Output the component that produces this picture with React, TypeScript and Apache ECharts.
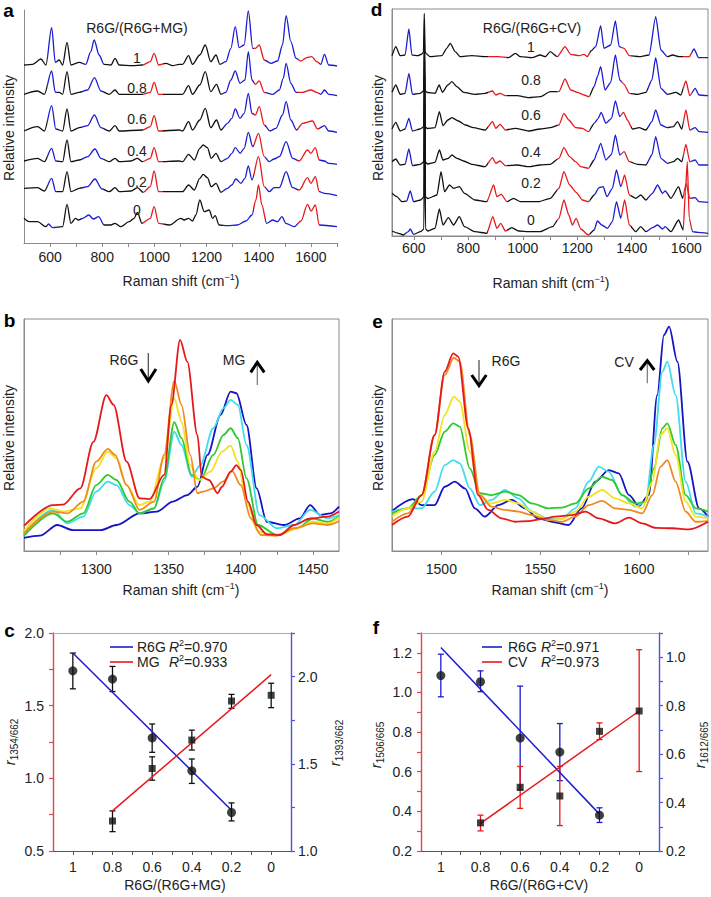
import React, { useEffect, useRef } from 'react';
import * as echarts from 'echarts';

const FONT = '"Liberation Sans", Arial, Helvetica, sans-serif';

// ---------- Panel a: stacked spectra, R6G/(R6G+MG) ----------
const levelsA = ['1', '0.8', '0.6', '0.4', '0.2', '0'];
const specA1 = [[500,178],[533,178.7],[565,184],[584,178],[606,215.3],[620,180.7],[635,183],[648,178],[665,200.7],[680,178],[712,180.7],[737,178.7],[756,191.3],[769,203],[788,188],[807,178.7],[833,178],[849,184.7],[865,178],[916,177.3],[954,178],[984,181.3],[999,189.7],[1016,178],[1044,179.7],[1070,177.3],[1095,178.7],[1108,178.7],[1131,187.3],[1146,178.7],[1174,188],[1195,198],[1216,181.3],[1236,188],[1251,178.7],[1274,181.3],[1293,194.7],[1310,216.3],[1325,195.3],[1344,198],[1360,232],[1377,194.7],[1387,194.7],[1402,198],[1421,183],[1447,179.7],[1472,182],[1491,198],[1505,227.3],[1523,201.3],[1543,184.7],[1562,182],[1584,185.3],[1603,186.3],[1622,181.3],[1638,178.7],[1652,188.7],[1668,178],[1700,177]];
const specA08 = [[500,148.7],[552,152],[578,148.7],[606,172],[620,150.7],[635,150.7],[648,148.7],[665,171.3],[680,148.7],[712,150.7],[744,153],[770,165.3],[795,152],[827,148.7],[849,153],[865,148.7],[954,148.7],[984,150.7],[999,160.7],[1016,148.7],[1095,148.7],[1108,148.7],[1131,157.3],[1146,148.7],[1174,158],[1195,171.3],[1216,151.3],[1238,158.7],[1255,148.7],[1274,150.7],[1293,163],[1310,172],[1328,159.7],[1347,163],[1360,191.3],[1374,163],[1387,158.7],[1402,162],[1421,150.7],[1453,148.7],[1479,153],[1494,164.7],[1505,179.7],[1523,159.7],[1543,150.7],[1568,150.7],[1600,153],[1622,150.7],[1638,148.7],[1652,153],[1668,148.7],[1700,147.3]];
const specA06 = [[500,112],[552,116.3],[578,112],[606,137.3],[622,114],[648,112],[665,134],[680,112],[712,115.3],[744,117.3],[770,128],[795,115.3],[827,112],[849,117.3],[865,112],[954,113],[984,116.3],[999,127.3],[1016,112],[1095,113],[1108,112],[1131,121.3],[1146,113],[1174,123],[1195,134.7],[1216,115.3],[1238,123],[1255,113],[1280,119.7],[1297,124.7],[1310,134],[1328,124.7],[1344,129.7],[1360,149.7],[1374,129.7],[1387,128],[1402,136.3],[1421,118],[1443,112],[1466,114.7],[1491,128],[1505,141.3],[1523,123],[1545,113],[1568,119.7],[1606,122],[1625,114],[1652,117.3],[1668,112],[1700,110.7]];
const specA04 = [[500,82],[552,84.7],[578,81.3],[606,94.7],[622,82],[648,81.3],[665,103],[680,81.3],[712,83],[744,86.3],[772,94],[795,84.7],[827,81.3],[849,84.7],[865,81.3],[910,82],[935,84.7],[954,81.3],[984,84.7],[999,95.3],[1016,81.3],[1095,82],[1108,81.3],[1131,88.7],[1153,83],[1174,94.7],[1187,98],[1203,95.3],[1218,84.7],[1236,89.7],[1255,81.3],[1280,84.7],[1297,89.7],[1310,95.3],[1329,89.7],[1344,94.7],[1360,110.7],[1377,96.3],[1399,109.7],[1421,86.3],[1440,81.3],[1459,84],[1479,86.3],[1505,101.3],[1530,84.7],[1555,82],[1587,93],[1600,89.7],[1617,95.3],[1632,83],[1652,82],[1668,79.7],[1700,78.7]];
const specA02 = [[500,54.7],[552,55.3],[578,52],[606,64.7],[622,51.3],[648,51.3],[665,71.3],[680,51.3],[712,54.7],[744,56.3],[772,64],[799,54],[827,51.3],[849,55.3],[865,51.3],[910,52],[935,55.3],[957,50.7],[984,56.3],[999,72],[1016,51.3],[1095,51.3],[1108,51.3],[1131,58],[1153,53],[1174,64.7],[1187,68.7],[1203,65.3],[1218,56.3],[1236,59.7],[1255,50.7],[1280,54.7],[1297,58],[1312,64],[1332,59.7],[1347,64.7],[1360,77],[1374,63],[1399,86.3],[1421,56.3],[1440,51.3],[1459,55.3],[1479,55.3],[1505,71.3],[1530,55.3],[1555,53],[1587,65.3],[1600,59.7],[1617,66.3],[1632,51.3],[1652,49.7],[1700,47.3]];
const specA0 = [[500,24.7],[520,21.3],[552,21.3],[584,16.3],[594,19],[610,15.3],[648,16.3],[665,38.7],[680,19.7],[697,24.7],[709,23],[725,24.7],[748,28],[766,24],[786,26.3],[807,18],[833,18],[849,19.7],[871,16.3],[903,21.3],[922,24.7],[935,30.7],[952,19.7],[984,24.7],[999,36.3],[1016,19.7],[1057,18],[1101,24.7],[1114,23],[1131,24.7],[1146,22],[1159,28],[1174,43],[1191,31.3],[1210,33],[1223,24.7],[1233,27.3],[1248,18],[1280,17.3],[1318,18],[1351,22],[1374,28],[1389,43],[1399,58],[1412,38],[1430,19.7],[1453,23],[1472,21.3],[1489,26.3],[1504,19.7],[1536,16.3],[1562,22],[1587,38.7],[1601,32],[1617,38],[1632,18],[1700,16.3]];
const colorBreaksA = [500, 588, 628, 722, 808, 958, 1032, 1262, 1380, 1425, 1550, 1630, 1700];
const colorKeysA = ['k', 'b', 'k', 'b', 'k', 'r', 'k', 'b', 'r', 'b', 'r', 'b'];

// ---------- Panel d: stacked spectra, R6G/(R6G+CV) ----------
const levelsD = ['1', '0.8', '0.6', '0.4', '0.2', '0'];
const specD1 = [[520,180.3],[534,189.3],[550,180.3],[568,181],[582,207],[593,181],[615,180.3],[630,182],[635.5,184],[638.5,222.7],[641.5,184],[647,182],[660,179.3],[703,180.3],[721,187.7],[734,192.7],[752,184.3],[770,179.3],[813,180.3],[862,179.3],[911,179.3],[948,178.3],[973,182.7],[991,179.3],[1034,178.3],[1064,181],[1083,179.3],[1101,184.3],[1127,179.3],[1155,189.3],[1176,181.7],[1207,180.3],[1225,181.7],[1237,179.3],[1250,185],[1268,189.3],[1286,210.3],[1298,187.7],[1323,191],[1340,215],[1354,189.3],[1372,187.7],[1391,180.3],[1427,179.3],[1464,181],[1488,219.3],[1507,186],[1531,179.3],[1550,181],[1574,179.3],[1611,179.3],[1629,187],[1645,178.3],[1680,178.3]];
const specD08 = [[520,143.7],[534,151],[550,141.7],[568,142.7],[582,162.7],[595,141.7],[623,142.7],[636,145],[639,205],[642,145],[650,143.5],[678,142.7],[693,151],[705,143.7],[725,151],[740,154.3],[758,149.3],[783,143.7],[825,141.7],[862,142.7],[889,145],[901,141],[917,142.7],[936,140.3],[979,140.3],[1022,138.3],[1064,139.3],[1101,144.3],[1133,144.3],[1155,157],[1176,146],[1200,143.7],[1225,141],[1243,139.3],[1262,149.3],[1274,159.3],[1286,169.3],[1302,146],[1323,153.7],[1340,181],[1356,156],[1372,151.7],[1391,142.7],[1421,141.7],[1452,143.7],[1474,156],[1488,178.3],[1507,147.7],[1531,141.7],[1562,143.7],[1580,141],[1599,155],[1613,140.3],[1633,147.7],[1647,141],[1680,140.3]];
const specD06 = [[520,107],[534,113.7],[550,105],[568,107],[582,117.7],[595,105],[623,107],[636,109],[639,190],[642,109],[650,107.5],[678,108.3],[694,124.3],[707,110.3],[725,116],[740,118.3],[764,115],[789,111],[819,108.3],[862,106],[889,114.3],[901,107.7],[917,111.7],[936,106],[973,107.7],[1022,105],[1064,107],[1101,108.3],[1133,111],[1151,122.7],[1169,116],[1194,108.3],[1219,107.7],[1241,104.3],[1262,112.7],[1277,117.7],[1288,123.7],[1305,112.7],[1326,117.7],[1340,135],[1356,119.3],[1370,123.7],[1384,116],[1403,107],[1427,108.3],[1452,106],[1474,114.3],[1488,126],[1507,111],[1531,108.3],[1553,109.3],[1568,114.3],[1584,107],[1599,126],[1613,106],[1633,108.3],[1647,104.3],[1680,103.7]];
const specD04 = [[520,74.3],[534,77],[550,71],[568,71.7],[582,87],[595,70.3],[623,71.7],[636.5,74],[639.5,175],[642.5,74],[651,72],[678,73.7],[694,86],[707,76],[727,77.7],[740,81],[758,77.7],[783,75],[813,71.7],[862,69.3],[889,78.3],[901,72.7],[917,75],[936,70.3],[979,71],[1022,69.3],[1064,71],[1101,71.7],[1133,77.7],[1151,88.3],[1172,79.3],[1194,74.3],[1213,69.3],[1241,67.7],[1262,76],[1274,84.3],[1286,92.7],[1305,76],[1326,81.7],[1340,101],[1356,81],[1372,84.3],[1391,74.3],[1421,71.7],[1452,71],[1474,81],[1488,99.3],[1507,77.7],[1531,72.7],[1553,74.3],[1568,77.7],[1584,74.3],[1599,91.7],[1613,74.3],[1633,76],[1647,71],[1680,71]];
const specD02 = [[520,42.7],[538,39.3],[556,34.3],[574,35],[587,45],[599,34.3],[625,36],[637,39],[640,160],[643,39],[652,37.5],[685,41],[700,64.3],[713,44.3],[731,51],[746,47.7],[767,49.3],[786,42.7],[825,36],[868,34.3],[893,51],[905,39.3],[921,41.7],[942,34.3],[966,37.7],[991,34.3],[1022,34.3],[1058,34.3],[1101,37.7],[1133,47.7],[1151,64.3],[1172,51],[1196,43.7],[1219,36],[1241,34.3],[1262,41],[1280,48.3],[1295,49.3],[1309,39.3],[1329,47.7],[1344,66],[1360,49.3],[1374,61],[1391,41],[1415,37.7],[1433,41],[1452,36],[1476,42.7],[1495,51],[1513,42.7],[1523,45],[1544,37.7],[1572,49.3],[1587,37.7],[1600,52.7],[1613,37.7],[1633,38.3],[1647,34.3],[1680,33.7]];
const specD0 = [[520,5],[544,2.7],[562,1],[580,4.3],[587,7],[599,1.7],[625,4.3],[637,7],[640,150],[643,7],[652,5],[678,7.7],[694,27],[707,11],[727,18.3],[746,11],[767,19.3],[786,9.3],[825,4.3],[868,2.7],[890,19.3],[905,7.7],[919,12.7],[936,5],[960,8.3],[985,5],[1022,4.3],[1064,4.3],[1109,9.3],[1133,17.7],[1151,36],[1169,21],[1182,11],[1196,17.7],[1213,7],[1241,1],[1262,6],[1274,15],[1290,11],[1311,7.7],[1329,14.3],[1344,34.3],[1360,17.7],[1374,36],[1391,11],[1415,4.3],[1433,9.3],[1452,4.3],[1476,8.3],[1495,11],[1513,7],[1523,9.3],[1544,4.3],[1572,16],[1589,6],[1597,44.3],[1604,74.3],[1611,17.7],[1623,4.3],[1642,3.7],[1680,2.7]];
const colorBreaksD = [500, 568, 600, 872, 942, 1125, 1248, 1262, 1360, 1398, 1458, 1532, 1590, 1622, 1700];
const colorKeysD = ['k', 'b', 'k', 'r', 'k', 'r', 'k', 'b', 'r', 'k', 'b', 'k', 'r', 'b'];

// ---------- Panel b: 1250-1470 region (R6G/MG) ----------
const bRed = [[1250,10.8],[1270,19.8],[1277,20],[1289,27],[1298,47],[1307,67.2],[1312,63],[1321,38.5],[1330,22.7],[1337,22.4],[1347,32.8],[1352,63],[1358,91],[1363,81.6],[1370,50],[1373,32],[1378,30.6],[1384,24.9],[1387,27.7],[1393,34.2],[1397,37],[1400,35],[1405,21.3],[1411,11.2],[1418,7.2],[1427,6.9],[1437,11.2],[1448,14],[1460,14.8],[1468,17]];
const bOrange = [[1250,7.6],[1270,17],[1280,16.2],[1291,21.3],[1300,38.5],[1308,44],[1313,41.4],[1321,28.4],[1330,17.7],[1340,21.3],[1347,41.4],[1354,73.3],[1359,63],[1365,41.4],[1370,24.9],[1374,25.6],[1381,27],[1388,30],[1394,34.5],[1400,28.4],[1407,14],[1414,6.9],[1425,6.6],[1437,9.8],[1450,11.9],[1460,11.2],[1468,12.9]];
const bYellow = [[1250,8.6],[1268,18.4],[1277,17],[1289,18.4],[1300,35.6],[1308,42.8],[1314,40],[1321,28.4],[1330,19.8],[1337,21.3],[1347,40],[1354,65.8],[1359,55.7],[1365,37],[1371,30.6],[1379,34.2],[1387,42.8],[1393,45.4],[1398,38.5],[1404,21.3],[1412,8.3],[1425,6.6],[1439,9.8],[1450,12.6],[1460,11.8],[1468,14.4]];
const bGreen = [[1250,6.6],[1270,16.2],[1280,12.6],[1291,16.2],[1300,28.4],[1308,32.8],[1314,30.6],[1323,21.3],[1330,16.2],[1340,18.4],[1347,31.3],[1354,55.5],[1359,48.6],[1366,32.8],[1372,30.6],[1381,41.4],[1388,50],[1393,52.9],[1398,48.6],[1404,31.3],[1412,11.2],[1425,6.9],[1439,9.8],[1450,14],[1460,12.6],[1468,14.8]];
const bCyan = [[1250,7.6],[1270,17.7],[1280,11.9],[1291,14.8],[1300,25.6],[1308,29.9],[1314,28.4],[1323,19.8],[1330,16.2],[1340,18.4],[1347,29.9],[1354,51.4],[1359,45.7],[1366,32],[1372,37],[1381,52.9],[1388,61.5],[1393,65.1],[1398,63],[1404,45.7],[1413,15.5],[1425,9.8],[1437,11.2],[1448,17.7],[1460,14.1],[1468,15.5]];
const bBlue = [[1250,5.7],[1261,6.6],[1273,11.2],[1284,9],[1303,9],[1314,11.2],[1330,16.2],[1342,17],[1353,21.3],[1363,24.1],[1370,27.7],[1377,41.4],[1386,58.6],[1393,68.7],[1397,68],[1404,54.3],[1411,27],[1418,12.6],[1430,11.2],[1441,14.1],[1448,19.8],[1455,15.5],[1462,16.2],[1468,19.1]];

// ---------- Panel e: 1475-1635 region (R6G/CV) ----------
const eRed = [[1475,11.2],[1483,14.8],[1490,24.1],[1496.6,50],[1501.7,77.3],[1506,85.2],[1508.5,83.8],[1513.6,52.9],[1518.6,24.1],[1523.7,17.7],[1530.5,14.1],[1537.3,12.6],[1544,12.9],[1550.8,13.8],[1557.6,14.8],[1566,15.5],[1572.9,17],[1579.7,14.1],[1588,11.9],[1595,14.4],[1601.7,11.9],[1608.5,10],[1617,9.8],[1625.4,9.3],[1635,12.6]];
const eOrange = [[1475,12.6],[1483,16.2],[1490,24.1],[1496.6,50],[1501.7,75.9],[1506.3,83.3],[1509.3,81.6],[1514.4,50],[1519.5,24.1],[1525.4,19.1],[1532.2,17.7],[1539,17],[1545.8,15.5],[1554.2,13.4],[1561,12.6],[1567.8,14.8],[1574.6,19.8],[1581.4,21.6],[1588,18.4],[1595,17.7],[1601.7,16.2],[1606.8,24.1],[1611,36.4],[1614.4,39.2],[1618.6,29.9],[1623.7,17],[1628.8,12.6],[1635,12.9]];
const eYellow = [[1475,14.8],[1483,18.4],[1490,21.3],[1496.6,42.8],[1501.7,58.6],[1506.3,66.5],[1509.3,64.4],[1514.4,42.8],[1519.5,24.1],[1525.4,20.5],[1532.2,22],[1539,20.5],[1545.8,17],[1554.2,13.4],[1561,13.8],[1567.8,17],[1574.6,23.4],[1581.4,26.3],[1588,22.7],[1595,20.5],[1601.7,18.4],[1606.8,29.9],[1611,50],[1614.4,52.9],[1618.6,41.4],[1623.7,21.3],[1628.8,14.8],[1635,14.1]];
const eGreen = [[1475,16.2],[1483,18.4],[1490,24.1],[1496.6,41.4],[1501.7,51.4],[1506,55],[1509.3,53.6],[1514.4,35.6],[1519.5,24.9],[1525.4,24.1],[1532.2,25.6],[1539,24.1],[1545.8,20.5],[1554.2,18.4],[1561,18.7],[1567.8,20.5],[1574.6,27],[1581.4,32],[1586.4,30.6],[1591.5,24.1],[1598.3,20.5],[1603.4,21.3],[1607.6,35.6],[1611.9,52.9],[1614.4,55],[1618.6,45.7],[1623.7,24.1],[1628.8,18.4],[1635,17]];
const eCyan = [[1475,17],[1483,18.4],[1490,18.4],[1496.6,25.6],[1501.7,37],[1506,39.2],[1509.3,37.8],[1514.4,27],[1519.5,19.8],[1525.4,22],[1532.2,26.3],[1539,22.7],[1545.8,17],[1554.2,13.8],[1561,13.8],[1567.8,18.4],[1574.6,29.9],[1579.7,36.4],[1584.7,34.2],[1591.5,24.1],[1598.3,19.1],[1603.4,21.3],[1607.6,45.7],[1611.9,77.3],[1614.4,81.6],[1618.6,67.2],[1623.7,29.9],[1628.8,16.2],[1635,14.8]];
const eBlue = [[1475,17.2],[1485.6,22.4],[1490,19.8],[1496.6,19.8],[1501.7,27.7],[1506.8,29.9],[1511.9,27],[1517,18.4],[1522,14.8],[1528.8,19.8],[1535.6,22],[1542.4,18.4],[1549,14.1],[1556,12.6],[1564.4,11.2],[1571,18.4],[1578,29.9],[1584.7,34.9],[1589.8,33.5],[1595,24.1],[1600,19.5],[1605,24.1],[1609.3,67.2],[1612.7,93.1],[1615.3,96.7],[1619.5,81.6],[1624.6,38.5],[1630.5,18.4],[1635,14.8]];

// ---------- Panel c ----------
const cR6GX = [1, 0.8, 0.6, 0.4, 0.2];
const cR6GVal = [1.74, 1.683, 1.278, 1.052, 0.765];
const cR6GLow = [1.616, 1.597, 1.179, 0.965, 0.707];
const cR6GHigh = [1.862, 1.77, 1.374, 1.133, 0.831];
const cMGX = [0.8, 0.6, 0.4, 0.2, 0];
const cMGVal = [1.172, 1.473, 1.636, 1.86, 1.893];
const cMGLow = [1.111, 1.406, 1.579, 1.818, 1.822];
const cMGHigh = [1.23, 1.54, 1.693, 1.898, 1.962];
const cR6GFit = [[1, 1.862], [0.2, 0.78]];
const cMGFit = [[0.8, 1.23], [0, 2.011]];

// ---------- Panel f ----------
const fR6GX = [1, 0.8, 0.6, 0.4, 0.2];
const fR6GVal = [1.085, 1.054, 0.77, 0.699, 0.381];
const fR6GLow = [0.978, 1.004, 0.508, 0.555, 0.344];
const fR6GHigh = [1.193, 1.109, 1.032, 0.843, 0.418];
const fCVX = [0.8, 0.6, 0.4, 0.2, 0];
const fCVVal = [0.316, 0.463, 0.427, 0.694, 0.778];
const fCVLow = [0.283, 0.376, 0.305, 0.66, 0.528];
const fCVHigh = [0.348, 0.549, 0.549, 0.729, 1.031];
const fR6GFit = [[1, 1.227], [0.2, 0.386]];
const fCVFit = [[0.8, 0.314], [0, 0.778]];

// ---------- Tick values ----------
const ticksA = [600, 700, 800, 900, 1000, 1100, 1200, 1300, 1400, 1500, 1600, 1700];
const labelsA = [600, 800, 1000, 1200, 1400, 1600];
const ticksD = [600, 700, 800, 900, 1000, 1100, 1200, 1300, 1400, 1500, 1600];
const labelsD = [600, 800, 1000, 1200, 1400, 1600];
const ticksB = [1275, 1300, 1325, 1350, 1375, 1400, 1425, 1450];
const labelsB = [1300, 1350, 1400, 1450];
const ticksE = [1500, 1525, 1550, 1575, 1600, 1625];
const labelsE = [1500, 1550, 1600];
const ticksRatio = [1, 0.9, 0.8, 0.7, 0.6, 0.5, 0.4, 0.3, 0.2, 0.1, 0];
const labelsRatio = [1, 0.8, 0.6, 0.4, 0.2, 0];
const ticksCL = [0.5, 0.75, 1, 1.25, 1.5, 1.75, 2];
const labelsCL = [0.5, 1, 1.5, 2];
const ticksCR = [1, 1.25, 1.5, 1.75, 2, 2.25];
const labelsCR = [1, 1.5, 2];
const ticksFL = [0.2, 0.3, 0.4, 0.5, 0.6, 0.7, 0.8, 0.9, 1, 1.1, 1.2, 1.3];
const labelsFL = [0.2, 0.4, 0.6, 0.8, 1, 1.2];
const ticksFR = [0.2, 0.3, 0.4, 0.5, 0.6, 0.7, 0.8, 0.9, 1, 1.1];
const labelsFR = [0.2, 0.4, 0.6, 0.8, 1];

const BLUE = '#1c1cd2';
const RED = '#e6191c';
const BLACK = '#111111';
const GRAY = '#8a8a8a';
const AXIS_RED = '#e04848';
const AXIS_BLUE = '#5050e6';
const colorMap: Record<string, string> = { k: BLACK, b: BLUE, r: RED };
const sixColors = { red: '#e5191c', orange: '#f08a1f', yellow: '#f3e21e', green: '#2fc92f', cyan: '#3fdcef', blue: '#1414c4' };

const richBase = {
  n: { fontSize: 14, fontFamily: FONT, color: '#222', lineHeight: 18 },
  it: { fontSize: 14, fontFamily: FONT, color: '#222', fontStyle: 'italic', lineHeight: 18 },
  ir: { fontSize: 15, fontFamily: FONT, color: '#222', fontStyle: 'italic', lineHeight: 20 },
  sup: { fontSize: 9, fontFamily: FONT, color: '#222', verticalAlign: 'top', lineHeight: 9 },
  sub: { fontSize: 10, fontFamily: FONT, color: '#222', verticalAlign: 'bottom', lineHeight: 10 },
};

function pieces(breaks: number[], keys: string[]) {
  return keys.map((k, i) => ({ gte: breaks[i], lt: breaks[i + 1] + (i === keys.length - 1 ? 1 : 0), color: colorMap[k] }));
}

const plainFmt = (v: number) => String(v);

function xAxisBase(gridIndex: number, min: number, max: number, ticks: number[], labels: number[], margin: number) {
  return {
    type: 'value', gridIndex, min, max, z: 3,
    axisLine: { show: true, onZero: false, lineStyle: { color: GRAY, width: 1 } },
    axisTick: { show: true, length: 4, customValues: ticks, lineStyle: { color: GRAY } },
    axisLabel: { customValues: labels, margin, color: '#222', fontSize: 14, fontFamily: FONT, formatter: plainFmt },
    splitLine: { show: false },
  };
}
function yHidden(gridIndex: number, max: number, showLine: boolean) {
  return {
    type: 'value', gridIndex, min: 0, max, z: 3,
    axisLine: { show: showLine, onZero: false, lineStyle: { color: GRAY } },
    axisTick: { show: false }, axisLabel: { show: false }, splitLine: { show: false },
  };
}
function yRatio(gridIndex: number, min: number, max: number, ticks: number[], labels: number[], position: string, color: string, margin: number) {
  return {
    type: 'value', gridIndex, min, max, position, z: 6,
    axisLine: { show: true, onZero: false, lineStyle: { color, width: 1.4 } },
    axisTick: { show: true, length: 4, customValues: ticks, lineStyle: { color, width: 1.2 } },
    axisLabel: { customValues: labels, margin, color: '#222', fontSize: 14, fontFamily: FONT, formatter: (v: number) => v.toFixed(1) },
    splitLine: { show: false },
  };
}

function specSeries(data: number[][], xi: number, yi: number, smooth: number) {
  return { type: 'line', xAxisIndex: xi, yAxisIndex: yi, data, showSymbol: false, smooth, smoothMonotone: 'x', lineStyle: { width: 1.3 }, silent: true };
}
function colorSeries(data: number[][], xi: number, yi: number, color: string) {
  return { type: 'line', xAxisIndex: xi, yAxisIndex: yi, data, showSymbol: false, smooth: 0.3, smoothMonotone: 'x', lineStyle: { width: 1.8, color }, itemStyle: { color }, silent: true };
}
function errRender(color: string) {
  return (params: any, api: any) => {
    const x = api.value(0);
    const p1 = api.coord([x, api.value(1)]);
    const p2 = api.coord([x, api.value(2)]);
    const st = { stroke: color, lineWidth: 1.3 };
    const cw = 3;
    return {
      type: 'group',
      children: [
        { type: 'line', shape: { x1: p1[0], y1: p1[1], x2: p2[0], y2: p2[1] }, style: st },
        { type: 'line', shape: { x1: p1[0] - cw, y1: p1[1], x2: p1[0] + cw, y2: p1[1] }, style: st },
        { type: 'line', shape: { x1: p2[0] - cw, y1: p2[1], x2: p2[0] + cw, y2: p2[1] }, style: st },
      ],
    };
  };
}
function errSeries(xs: number[], lo: number[], hi: number[], xi: number, yi: number, color: string) {
  return {
    type: 'custom', xAxisIndex: xi, yAxisIndex: yi, renderItem: errRender(color), silent: true,
    data: xs.map((x, i) => [x, lo[i], hi[i]]), encode: { x: 0, y: [1, 2] }, z: 3,
  };
}
function markerSeries(xs: number[], vals: number[], xi: number, yi: number, symbol: string, size: number) {
  return {
    type: 'scatter', xAxisIndex: xi, yAxisIndex: yi, symbol, symbolSize: size, silent: true,
    data: xs.map((x, i) => [x, vals[i]]), itemStyle: { color: BLACK }, z: 5,
  };
}
function fitSeries(data: number[][], xi: number, yi: number, color: string) {
  return { type: 'line', xAxisIndex: xi, yAxisIndex: yi, data, showSymbol: false, lineStyle: { width: 1.5, color }, silent: true, z: 4 };
}

function txt(x: number, y: number, text: string, opts: any = {}) {
  return {
    type: 'text', x, y, rotation: opts.rotation || 0, z: 50,
    style: {
      text, align: opts.align || 'center', verticalAlign: opts.va || 'middle',
      fontSize: opts.size || 14, fontFamily: FONT, fontWeight: opts.weight || 'normal',
      fill: opts.color || '#222', rich: richBase,
    },
  };
}
function gline(x1: number, y1: number, x2: number, y2: number, color: string, w: number) {
  return { type: 'line', z: 50, shape: { x1, y1, x2, y2 }, style: { stroke: color, lineWidth: w } };
}
function chevron(points: number[][]) {
  return { type: 'polyline', z: 50, shape: { points }, style: { stroke: '#000', lineWidth: 3, fill: 'none' } };
}

function buildOption() {
  const ROT = Math.PI / 2;
  const raman = '{n|Raman shift (cm}{sup|−1}{n|)}';
  const levelYA = [58, 88, 119, 151, 182, 210];
  const levelYD = [47, 80, 115, 152, 183, 220];
  const graphics: any[] = [
    txt(8.5, 10, 'a', { size: 19, weight: 'bold', color: '#000' }),
    txt(376.5, 9.5, 'd', { size: 19, weight: 'bold', color: '#000' }),
    txt(9.5, 320, 'b', { size: 19, weight: 'bold', color: '#000' }),
    txt(377.5, 321, 'e', { size: 19, weight: 'bold', color: '#000' }),
    txt(9.5, 630, 'c', { size: 19, weight: 'bold', color: '#000' }),
    txt(376, 627, 'f', { size: 19, weight: 'bold', color: '#000' }),
    txt(181, 281, raman), txt(551, 283, raman), txt(181, 590, raman), txt(550, 590, raman),
    txt(175, 885, 'R6G/(R6G+MG)'), txt(539, 885, 'R6G/(R6G+CV)'),
    txt(9, 128, 'Relative intensity', { rotation: ROT }),
    txt(377.5, 128, 'Relative intensity', { rotation: ROT }),
    txt(9, 438, 'Relative intensity', { rotation: ROT }),
    txt(377.5, 438, 'Relative intensity', { rotation: ROT }),
    txt(9, 742, '{ir|r}{sub|1354/662}', { rotation: ROT }),
    txt(334, 743, '{ir|r}{sub|1393/662}', { rotation: ROT }),
    txt(375, 745, '{ir|r}{sub|1506/665}', { rotation: ROT }),
    txt(699, 745, '{ir|r}{sub|1612/665}', { rotation: ROT }),
    txt(137, 28, 'R6G/(R6G+MG)'), txt(532, 28, 'R6G/(R6G+CV)'),
    txt(124, 360, 'R6G'), gline(148.3, 353, 148.3, 381, '#444', 1.2), chevron([[140.7, 369], [148.3, 381], [156, 369]]),
    txt(234, 360, 'MG'), gline(257.3, 385, 257.3, 363, '#777', 1.2), chevron([[250.7, 372.3], [257.3, 362.3], [264.3, 372.3]]),
    txt(506, 361, 'R6G'), gline(479, 360, 479, 385.5, '#444', 1.2), chevron([[471.7, 375], [479, 385.7], [486.3, 375]]),
    txt(624, 362, 'CV'), gline(647.3, 383.3, 647.3, 361.5, '#777', 1.2), chevron([[640, 370], [647.3, 360.7], [654.3, 370]]),
    gline(53, 633.5, 291, 633.5, '#aaaaaa', 1), gline(421, 633.5, 659, 633.5, '#aaaaaa', 1),
    gline(110, 647, 133, 647, BLUE, 1.6), txt(137, 647, 'R6G', { align: 'left' }), txt(169, 647, '{it|R}{sup|2}{n|=0.970}', { align: 'left' }),
    gline(110, 662, 133, 662, RED, 1.6), txt(137, 662, 'MG', { align: 'left' }), txt(169, 662, '{it|R}{sup|2}{n|=0.933}', { align: 'left' }),
    gline(482, 647, 502, 647, BLUE, 1.6), txt(508, 647, 'R6G', { align: 'left' }), txt(541, 647, '{it|R}{sup|2}{n|=0.971}', { align: 'left' }),
    gline(482, 662, 502, 662, RED, 1.6), txt(508, 662, 'CV', { align: 'left' }), txt(541, 662, '{it|R}{sup|2}{n|=0.973}', { align: 'left' }),
  ];
  levelsA.forEach((l, i) => graphics.push(txt(137, levelYA[i], l)));
  levelsD.forEach((l, i) => graphics.push(txt(531, levelYD[i], l)));

  const ratioFmt = (v: number) => String(Math.round(v * 10) / 10);
  const ratioX = (gridIndex: number) => ({
    type: 'value', gridIndex, min: -0.1, max: 1.1, inverse: true, z: 5,
    axisLine: { show: true, onZero: false, lineStyle: { color: '#555', width: 1 } },
    axisTick: { show: true, length: 4, customValues: ticksRatio, lineStyle: { color: '#555' } },
    axisLabel: { customValues: labelsRatio, margin: 9, color: '#222', fontSize: 14, fontFamily: FONT, formatter: ratioFmt },
    splitLine: { show: false },
  });

  const specsA = [specA1, specA08, specA06, specA04, specA02, specA0];
  const specsD = [specD1, specD08, specD06, specD04, specD02, specD0];
  const bList = [[bBlue, sixColors.blue], [bCyan, sixColors.cyan], [bGreen, sixColors.green], [bYellow, sixColors.yellow], [bOrange, sixColors.orange], [bRed, sixColors.red]] as [number[][], string][];
  const eList = [[eBlue, sixColors.blue], [eCyan, sixColors.cyan], [eGreen, sixColors.green], [eYellow, sixColors.yellow], [eOrange, sixColors.orange], [eRed, sixColors.red]] as [number[][], string][];

  const series: any[] = [];
  specsA.forEach((s) => series.push(specSeries(s, 0, 0, 0.3)));
  specsD.forEach((s) => series.push(specSeries(s, 1, 1, 0.2)));
  bList.forEach(([s, c]) => series.push(colorSeries(s, 2, 2, c)));
  eList.forEach(([s, c]) => series.push(colorSeries(s, 3, 3, c)));
  series.push(fitSeries(cR6GFit, 4, 4, BLUE));
  series.push(fitSeries(cMGFit, 4, 5, RED));
  series.push(errSeries(cR6GX, cR6GLow, cR6GHigh, 4, 4, BLACK));
  series.push(errSeries(cMGX, cMGLow, cMGHigh, 4, 5, BLACK));
  series.push(markerSeries(cR6GX, cR6GVal, 4, 4, 'circle', 9));
  series.push(markerSeries(cMGX, cMGVal, 4, 5, 'rect', 7));
  series.push(fitSeries(fR6GFit, 5, 6, BLUE));
  series.push(fitSeries(fCVFit, 5, 7, RED));
  series.push(errSeries(fR6GX, fR6GLow, fR6GHigh, 5, 6, BLUE));
  series.push(errSeries(fCVX, fCVLow, fCVHigh, 5, 7, RED));
  series.push(markerSeries(fR6GX, fR6GVal, 5, 6, 'circle', 9));
  series.push(markerSeries(fCVX, fCVVal, 5, 7, 'rect', 7));

  return {
    animation: false,
    backgroundColor: '#ffffff',
    textStyle: { fontFamily: FONT },
    grid: [
      { left: 24, top: 10, width: 313, height: 233, show: false },
      { left: 392, top: 9, width: 316, height: 227, show: true, borderColor: GRAY, borderWidth: 1, backgroundColor: 'transparent' },
      { left: 24, top: 319, width: 315, height: 232, show: true, borderColor: GRAY, borderWidth: 1, backgroundColor: 'transparent' },
      { left: 392, top: 319, width: 316, height: 232, show: true, borderColor: GRAY, borderWidth: 1, backgroundColor: 'transparent' },
      { left: 53, top: 633, width: 238, height: 218, show: false },
      { left: 421, top: 633, width: 238, height: 218, show: false },
    ],
    xAxis: [
      xAxisBase(0, 500, 1700, ticksA, labelsA, 7),
      xAxisBase(1, 520, 1680, ticksD, labelsD, 5),
      xAxisBase(2, 1250, 1468, ticksB, labelsB, 11),
      xAxisBase(3, 1475, 1635, ticksE, labelsE, 11),
      ratioX(4),
      ratioX(5),
    ],
    yAxis: [
      yHidden(0, 233, true),
      yHidden(1, 227, true),
      yHidden(2, 100, true),
      yHidden(3, 100, true),
      yRatio(4, 0.5, 2.0, ticksCL, labelsCL, 'left', AXIS_RED, 9),
      yRatio(4, 1.0, 2.25, ticksCR, labelsCR, 'right', AXIS_BLUE, 7),
      yRatio(5, 0.2, 1.3, ticksFL, labelsFL, 'left', AXIS_RED, 9),
      yRatio(5, 0.2, 1.1, ticksFR, labelsFR, 'right', AXIS_BLUE, 7),
    ],
    visualMap: [
      { type: 'piecewise', show: false, dimension: 0, seriesIndex: [0, 1, 2, 3, 4, 5], pieces: pieces(colorBreaksA, colorKeysA), outOfRange: { color: BLACK } },
      { type: 'piecewise', show: false, dimension: 0, seriesIndex: [6, 7, 8, 9, 10, 11], pieces: pieces(colorBreaksD, colorKeysD), outOfRange: { color: BLACK } },
    ],
    graphic: graphics,
    series,
  };
}

export default function App() {
  const ref = useRef<HTMLDivElement>(null);
  useEffect(() => {
    if (!ref.current) return;
    const chart = echarts.init(ref.current, undefined, { renderer: 'svg' });
    chart.setOption(buildOption() as any);
    return () => chart.dispose();
  }, []);
  return <div ref={ref} style={{ position: 'absolute', left: 0, top: 0, width: 711, height: 897, background: '#fff' }} />;
}
